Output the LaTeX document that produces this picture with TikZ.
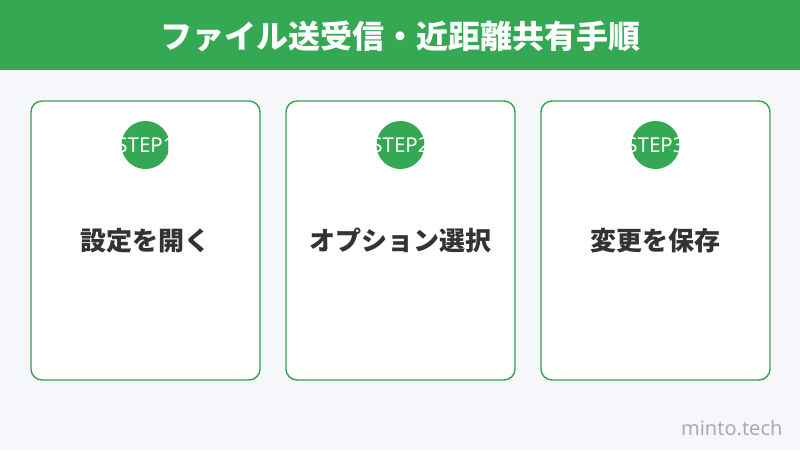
\documentclass[tikz,border=0pt]{standalone}
\usepackage{fontspec}
\setmainfont{Noto Sans CJK JP}
\newfontfamily\latinfont{Noto Sans}
\definecolor{gbar}{HTML}{34A853}
\definecolor{bgc}{HTML}{F5F7FA}
\definecolor{cardline}{HTML}{3A9E55}
\definecolor{txt}{HTML}{333333}
\definecolor{wm}{HTML}{AAAAAA}
\tikzset{
  card/.style={draw=cardline, line width=1.4pt, fill=white, rounded corners=11pt, minimum width=229pt, minimum height=279pt, inner sep=0pt},
  badge/.style={circle, fill=gbar, minimum size=48pt, inner sep=0pt},
  badgetext/.style={text=white, font=\latinfont\fontsize{20.5}{20.5}\selectfont},
  steptext/.style={text=txt, font=\bfseries\fontsize{26}{26}\selectfont},
}
\begin{document}
\begin{tikzpicture}[x=1pt,y=-1pt]
\useasboundingbox (0,0) rectangle (800,450);
\fill[bgc] (0,0) rectangle (800,450);
\fill[gbar] (0,0) rectangle (800,70);
\node[text=white, font=\bfseries\fontsize{32}{32}\selectfont] (title) at (400,36) {ファイル送受信・近距離共有手順};
\foreach \i/\cx/\lab in {1/145.5/設定を開く, 2/400.5/オプション選択, 3/655.5/変更を保存}{
  \node[card] (card\i) at (\cx,240.5) {};
  \node[badge] (badge\i) at (\cx,145) {};
  \node[badgetext] (badgelabel\i) at (\cx,145) {STEP\i};
  \node[steptext] (label\i) at (\cx,241) {\lab};
}
\node[text=wm, font=\latinfont\fontsize{20}{20}\selectfont, anchor=east] (wm) at (786,428) {minto.tech};
\end{tikzpicture}
\end{document}
